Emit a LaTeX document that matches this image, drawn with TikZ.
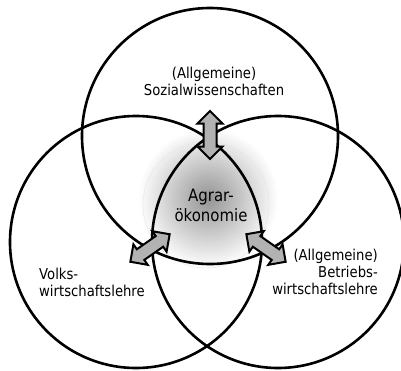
\documentclass[tikz,border=0pt]{standalone}
\usepackage{fontspec}
\newfontfamily\labelfont{DejaVu Sans}[FakeStretch=0.88]
\usetikzlibrary{shapes.arrows}

\tikzset{
  venn/.style={line width=2.6pt, black},
  link/.style={double arrow, draw=black, line width=2pt, fill=gray!60,
    inner sep=5.5pt, double arrow head extend=6pt, minimum height=48pt},
  lbl/.style={font=\labelfont\fontsize{15}{17}\selectfont, inner sep=0pt}
}

\begin{document}
\begin{tikzpicture}[x=1pt, y=-1pt]
  \useasboundingbox (0,0) rectangle (401,370);
  % glow behind the core
  \shade[inner color=black!42, outer color=white] (208,198) circle (70);
  \draw[gray!20, line width=0.4pt] (206,205) circle (63);
  % the three fields
  \draw[venn] (210,136) circle (128);
  \draw[venn] (136,242) circle (126);
  \draw[venn] (278,242) circle (126);
  % links between core and fields
  \node[link, rotate=90] (soz) at (210,135) {};
  \node[link, rotate=35] (vwl) at (150,248) {};
  \node[link, rotate=-35] (bwl) at (266,248) {};
  % labels
  \node[lbl, align=center] (tsoz) at (214,81) {(Allgemeine)\\Sozialwissenschaften};
  \node[lbl, align=center, font=\labelfont\fontsize{17}{20}\selectfont] (tagr) at (211,205) {Agrar-\\ökonomie};
  \node[lbl, align=left, anchor=west] (tvwl) at (39,282) {Volks-\\wirtschaftslehre};
  \node[lbl, align=right, anchor=east] (tbwl) at (378,272) {(Allgemeine)\\Betriebs-\\wirtschaftslehre};
\end{tikzpicture}
\end{document}
